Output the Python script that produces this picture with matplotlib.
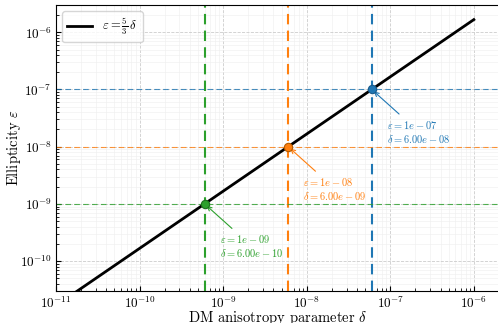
import matplotlib
matplotlib.use('Agg')
import matplotlib.pyplot as plt
import numpy as np

plt.rcParams['font.family'] = 'serif'
plt.rcParams['font.serif'] = ['cmr10', 'DejaVu Serif']
plt.rcParams['mathtext.fontset'] = 'cm'
plt.rcParams['axes.formatter.use_mathtext'] = True

# данные
delta_line = [1e-11, 1e-6]
eps_line = [5 / 3 * d for d in delta_line]

eps_pts = [1e-7, 1e-8, 1e-9]
delta_pts = [6e-8, 6e-9, 6e-10]
eps_labels = ['1e-07', '1e-08', '1e-09']
delta_labels = ['6.00e-08', '6.00e-09', '6.00e-10']
colors = ['#1f77b4', '#ff7f0e', '#2ca02c']
edges = ['#1a5a8a', '#b35a00', '#1e6e1e']

fig = plt.figure(figsize=(4.98, 3.23), dpi=100)
ax = fig.add_axes([56 / 498, 32 / 323, 443 / 498, 286 / 323])

ax.plot(delta_line, eps_line, 'k', lw=2, label=r'$\varepsilon=\frac{5}{3}\,\delta$', zorder=4)

for e, d, el, dl, c, ec in zip(eps_pts, delta_pts, eps_labels, delta_labels, colors, edges):
    ax.axvline(d, color=c, ls=(0, (5, 3)), lw=1.5, zorder=2)
    ax.axhline(e, color=c, ls=(0, (5, 3)), lw=0.8, alpha=0.8, zorder=2)
    ax.plot([d], [e], 'o', ms=6, color=c, mec=ec, mew=0.8, zorder=5)
    ax.annotate('$\\varepsilon=' + el + '$\n$\\delta=' + dl + '$',
                xy=(d, e), xytext=(11, -21), textcoords='offset points',
                ha='left', va='top', fontsize=7.5, color=c,
                arrowprops=dict(arrowstyle='->', color=c, lw=0.8))

ax.set_xscale('log')
ax.set_yscale('log')
ax.set_xlim(1e-11, 2e-6)
ax.set_ylim(3e-11, 3e-6)

ax.grid(True, which='major', ls='--', lw=0.6, color='#cccccc')
ax.grid(True, which='minor', ls='-', lw=0.4, color='#eeeeee')
ax.set_axisbelow(True)

ax.set_xlabel(r'DM anisotropy parameter $\delta$', fontsize=10.5)
ax.set_ylabel(r'Ellipticity $\varepsilon$', fontsize=10.5)
ax.xaxis.set_label_coords(0.5, -0.062)
ax.yaxis.set_label_coords(-0.075, 0.5)
ax.tick_params(axis='both', which='both', direction='in')
ax.tick_params(axis='both', which='major', labelsize=9.5, pad=3)

ax.legend(loc='upper left', fontsize=9, fancybox=True)

plt.savefig('out.png', dpi=100)
